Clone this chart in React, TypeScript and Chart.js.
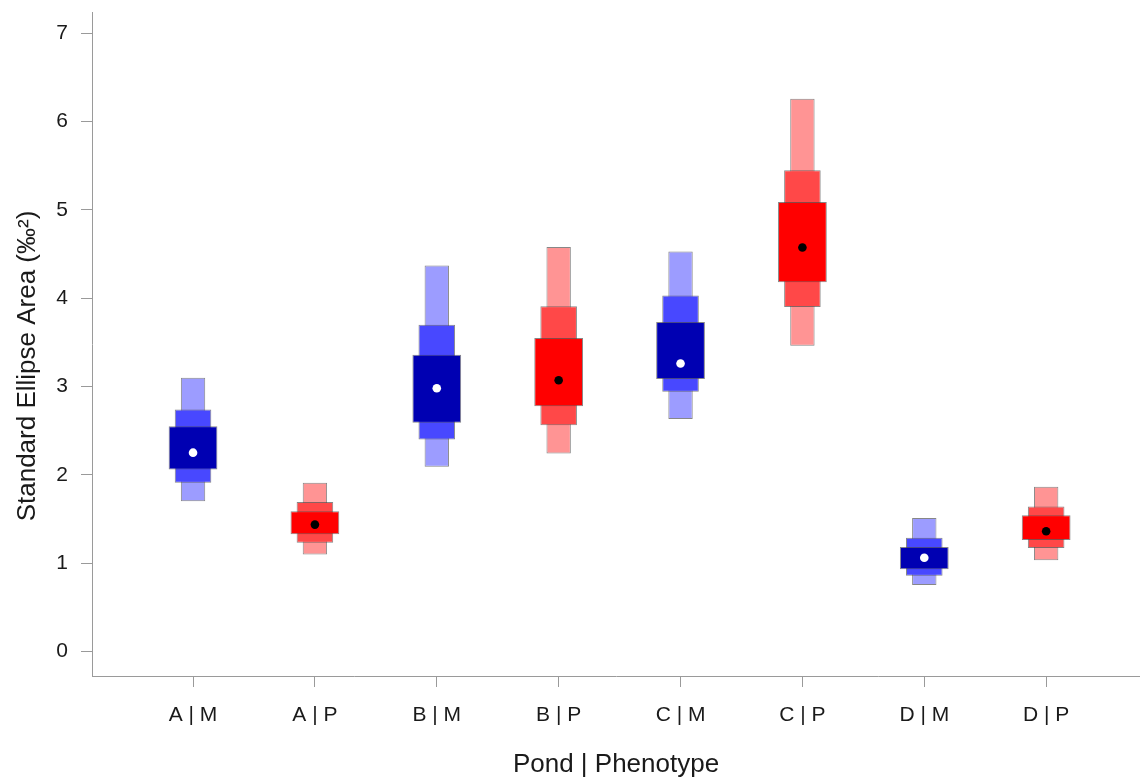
import React, { useEffect, useRef } from "react";
import { Chart, registerables } from "chart.js";

Chart.register(...registerables);

// ---- data ----
const categories = ["A | M", "A | P", "B | M", "B | P", "C | M", "C | P", "D | M", "D | P"];
const phenotype = ["M", "P", "M", "P", "M", "P", "M", "P"];

const ci95Low = [1.7, 1.095, 2.09, 2.24, 2.63, 3.46, 0.75, 1.03];
const ci95High = [3.1, 1.91, 4.37, 4.58, 4.53, 6.26, 1.51, 1.865];
const ci75Low = [1.91, 1.23, 2.4, 2.56, 2.94, 3.9, 0.855, 1.17];
const ci75High = [2.74, 1.69, 3.7, 3.91, 4.03, 5.45, 1.285, 1.64];
const ci50Low = [2.06, 1.325, 2.59, 2.775, 3.085, 4.18, 0.93, 1.26];
const ci50High = [2.55, 1.585, 3.36, 3.55, 3.73, 5.09, 1.18, 1.54];
const modes = [2.25, 1.435, 2.98, 3.07, 3.26, 4.575, 1.06, 1.36];

const yTicks = [0, 1, 2, 3, 4, 5, 6, 7];
const xTitle = "Pond | Phenotype";
const yTitle = "Standard Ellipse Area (\u2030\u00B2)";

// ---- styles ----
const FONT = "'Liberation Sans', Arial, Helvetica, sans-serif";
const TEXT = "#1a1a1a";
const AXIS = "#9a9a9a";
const blue = { c50: "#0000B2", c75: "#4848FF", c95: "#9C9CFF" };
const red = { c50: "#FF0000", c75: "#FF4848", c95: "#FF9494" };
const BORDER = "rgba(70,70,70,0.65)";

const colorFor = (level: "c50" | "c75" | "c95") =>
  phenotype.map((p) => (p === "M" ? blue[level] : red[level]));

const yTitlePlugin = {
  id: "yTitlePlugin",
  afterDraw(chart: any) {
    const { ctx } = chart;
    ctx.save();
    ctx.translate(28, 366);
    ctx.rotate(-Math.PI / 2);
    ctx.font = `26px ${FONT}`;
    ctx.fillStyle = TEXT;
    ctx.textAlign = "center";
    ctx.textBaseline = "middle";
    ctx.fillText(yTitle, 0, 0);
    ctx.restore();
  },
};

export default function App() {
  const ref = useRef<HTMLCanvasElement>(null);

  useEffect(() => {
    if (!ref.current) return;
    const xs = categories.map((_, i) => i);
    const barCommon = {
      categoryPercentage: 1,
      grouped: false,
      borderWidth: 1,
      borderColor: BORDER,
      borderSkipped: false as const,
    };
    const chart = new Chart(ref.current, {
      type: "bar",
      data: {
        datasets: [
          {
            type: "scatter" as const,
            label: "Mode",
            data: xs.map((x, i) => ({ x, y: modes[i] })),
            pointRadius: 4.3,
            pointBorderWidth: 0,
            pointBackgroundColor: phenotype.map((p) => (p === "M" ? "#ffffff" : "#000000")),
            order: 0,
          } as any,
          {
            label: "50%",
            data: xs.map((x, i) => ({ x, y: [ci50Low[i], ci50High[i]] })),
            backgroundColor: colorFor("c50"),
            barPercentage: 0.4,
            order: 1,
            ...barCommon,
          } as any,
          {
            label: "75%",
            data: xs.map((x, i) => ({ x, y: [ci75Low[i], ci75High[i]] })),
            backgroundColor: colorFor("c75"),
            barPercentage: 0.3,
            order: 2,
            ...barCommon,
          } as any,
          {
            label: "95%",
            data: xs.map((x, i) => ({ x, y: [ci95Low[i], ci95High[i]] })),
            backgroundColor: colorFor("c95"),
            barPercentage: 0.2,
            order: 3,
            ...barCommon,
          } as any,
        ],
      },
      options: {
        responsive: false,
        animation: false,
        events: [],
        layout: { autoPadding: false, padding: { left: 0, right: 0, top: 12, bottom: 0 } },
        plugins: {
          legend: { display: false },
          tooltip: { enabled: false },
        },
        scales: {
          x: {
            type: "linear",
            offset: false,
            min: -0.829,
            max: 7.77,
            afterBuildTicks: (scale: any) => {
              scale.ticks = categories.map((_, i) => ({ value: i }));
            },
            afterFit: (scale: any) => {
              scale.height = 104;
              scale.paddingLeft = 0;
              scale.paddingRight = 0;
              scale.paddingTop = 0;
              scale.paddingBottom = 0;
            },
            grid: {
              display: true,
              offset: false,
              drawOnChartArea: false,
              drawTicks: true,
              tickLength: 11,
              tickColor: AXIS,
              tickWidth: 1,
            },
            border: { display: true, color: AXIS, width: 1 },
            ticks: {
              padding: 16,
              maxRotation: 0,
              autoSkip: false,
              color: TEXT,
              font: { family: FONT, size: 21 },
              callback: (v: any) => categories[Math.round(Number(v))] ?? "",
            },
            title: {
              display: true,
              text: xTitle,
              color: TEXT,
              font: { family: FONT, size: 26 },
              padding: { top: 0, bottom: 0 },
            },
          },
          y: {
            type: "linear",
            min: -0.28,
            max: 7.242,
            afterBuildTicks: (scale: any) => {
              scale.ticks = yTicks.map((v) => ({ value: v }));
            },
            afterFit: (scale: any) => {
              scale.width = 92;
              scale.paddingTop = 0;
              scale.paddingBottom = 0;
              scale.paddingLeft = 0;
              scale.paddingRight = 0;
            },
            grid: {
              display: true,
              drawOnChartArea: false,
              drawTicks: true,
              tickLength: 11,
              tickColor: AXIS,
              tickWidth: 1,
            },
            border: { display: true, color: AXIS, width: 1 },
            ticks: {
              padding: 13,
              color: TEXT,
              font: { family: FONT, size: 21 },
              callback: (v: any) => String(v),
            },
          },
        },
      },
      plugins: [yTitlePlugin],
    });
    return () => chart.destroy();
  }, []);

  return (
    <div style={{ position: "fixed", left: 0, top: 0, width: 1140, height: 780, background: "#fff" }}>
      <canvas ref={ref} width={1140} height={780} style={{ display: "block" }} />
    </div>
  );
}
